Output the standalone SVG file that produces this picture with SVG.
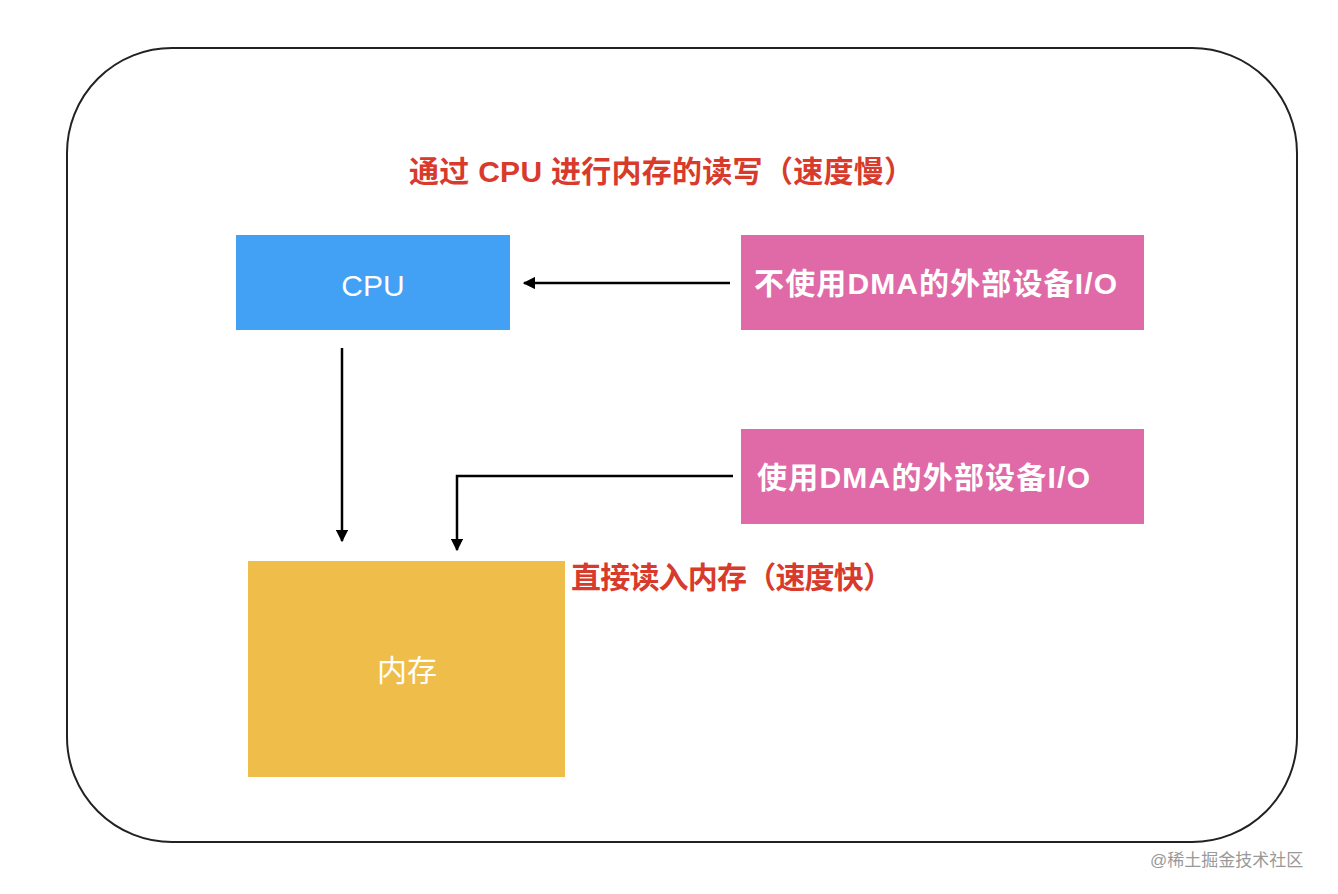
<svg xmlns="http://www.w3.org/2000/svg" width="1338" height="894" viewBox="0 0 1338 894">
<style>
.t{font-family:"Liberation Sans","Noto Sans CJK SC",sans-serif}
.red{fill:#d83a2c;font-size:30px;font-weight:bold}
.w{fill:#fff;font-size:30px}
.b{font-weight:bold}
.ln{stroke:#000;stroke-width:2.5;fill:none}
</style>
<defs><marker id="a" viewBox="0 0 10 10" refX="9" refY="5" markerWidth="5" markerHeight="5" orient="auto"><path d="M0,0L10,5L0,10z" fill="#000"/></marker></defs>
<rect width="1338" height="894" fill="#fff"/>
<rect x="67" y="48" width="1230" height="794" rx="105" fill="#fff" stroke="#222" stroke-width="2"/>
<text class="t red" x="409" y="182" textLength="505">通过 CPU 进行内存的读写（速度慢）</text>
<g id="cpu"><rect x="236" y="235" width="274" height="95" fill="#42a0f5"/><text class="t w" x="373" y="296" text-anchor="middle">CPU</text></g>
<g id="io1"><rect x="741" y="235" width="403" height="95" fill="#e06aa7"/><text class="t w b" x="754" y="294" font-size="29" textLength="363">不使用DMA的外部设备I/O</text></g>
<g id="io2"><rect x="741" y="429" width="403" height="95" fill="#e06aa7"/><text class="t w b" x="757" y="488" font-size="29" textLength="333">使用DMA的外部设备I/O</text></g>
<g id="mem"><rect x="248" y="561" width="317" height="216" fill="#efbd4a"/><text class="t w" x="407" y="681" text-anchor="middle">内存</text></g>
<g id="connectors">
<path class="ln" d="M730,283H524" marker-end="url(#a)"/>
<path class="ln" d="M342,348V541" marker-end="url(#a)"/>
<path class="ln" d="M733,476H457V550" marker-end="url(#a)"/>
</g>
<text class="t red" x="571" y="588" textLength="322">直接读入内存（速度快）</text>
<text class="t" x="1150" y="866" fill="#999" font-size="17">@稀土掘金技术社区</text>
</svg>
